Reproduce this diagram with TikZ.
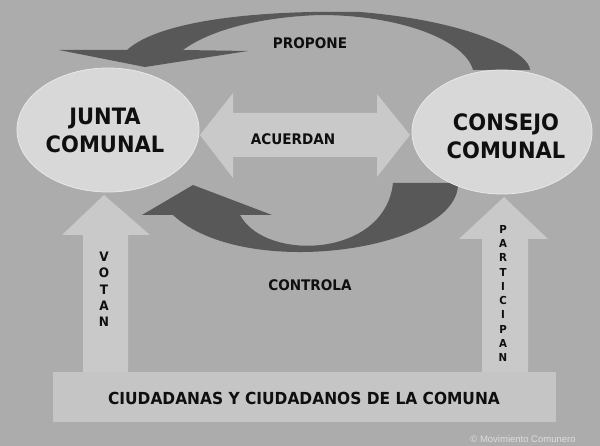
\documentclass[tikz,border=0pt]{standalone}
\usepackage{fontspec}
\usetikzlibrary{shapes.geometric}
\newfontfamily\lab{DejaVu Sans}[FakeStretch=0.93]
\setmainfont{Liberation Sans}
\definecolor{bgc}{RGB}{172,172,172}
\definecolor{ellc}{RGB}{216,216,216}
\definecolor{lightarr}{RGB}{201,201,201}
\definecolor{darkarr}{RGB}{88,88,88}
\definecolor{rectc}{RGB}{197,197,197}
\definecolor{txtc}{RGB}{15,15,15}
\definecolor{copyc}{RGB}{222,222,222}
\begin{document}
\begin{tikzpicture}[x=1pt,y=-1pt,
  darkshape/.style={fill=darkarr},
  lightshape/.style={fill=lightarr},
  oval/.style={ellipse,fill=ellc,draw=ellc!60!white,line width=0.8pt,inner sep=0pt},
  bigtxt/.style={text=txtc,font=\lab\bfseries\fontsize{22.6}{28}\selectfont,align=center,inner sep=0pt},
  midtxt/.style={text=txtc,font=\lab\bfseries\fontsize{14.6}{17}\selectfont,inner sep=0pt},
  coltxt/.style={text=txtc,align=center,inner sep=0pt}]
\useasboundingbox (0,0) rectangle (600,446);
\fill[bgc] (0,0) rectangle (600,446);

% PROPONE arrow (top)
\fill[darkshape] (530,70) .. controls (530,55) and (480,22) .. (360,12)
  .. controls (260,10) and (160,20) .. (127,50) -- (59,50) -- (145,67) -- (248,51) -- (183,50)
  .. controls (210,30) and (260,17) .. (320,15)
  .. controls (400,15) and (465,40) .. (473,70) -- cycle;

% CONTROLA arrow (bottom)
\fill[darkshape] (142,215) -- (193,185) -- (272,215) -- (240,215)
  .. controls (265,262) and (385,258) .. (393,183) -- (458,183)
  .. controls (460,250) and (245,282) .. (173,215) -- cycle;

% ACUERDAN double arrow
\fill[lightshape] (200,135) -- (233,93) -- (233,113) -- (377,113) -- (377,94) -- (410,135)
  -- (377,177) -- (377,157) -- (233,157) -- (233,178) -- cycle;

% VOTAN arrow
\fill[lightshape] (104,195) -- (150,235) -- (128,235) -- (128,372) -- (83,372) -- (83,235) -- (62,235) -- cycle;
% PARTICIPAN arrow
\fill[lightshape] (504,197) -- (548,239) -- (528,239) -- (528,373) -- (482,373) -- (482,239) -- (459,239) -- cycle;

% ellipses
\node[oval,minimum width=182pt,minimum height=124pt] (junta) at (108,130) {};
\node[oval,minimum width=180pt,minimum height=124pt] (consejo) at (502,132) {};
\node[bigtxt] (juntat) at (105,130) {JUNTA\\COMUNAL};
\node[bigtxt] (consejot) at (506,136) {CONSEJO\\COMUNAL};

% bottom box
\node[fill=rectc,minimum width=503pt,minimum height=50pt,inner sep=0pt] (ciud) at (304.5,397) {};
\node[text=txtc,font=\lab\bfseries\fontsize{16.6}{20}\selectfont,inner sep=0pt] (ciudt) at (304,398) {CIUDADANAS Y CIUDADANOS DE LA COMUNA};

% labels
\node[midtxt] (propone) at (310,43) {PROPONE};
\node[midtxt] (acuerdan) at (293,139) {ACUERDAN};
\node[midtxt] (controla) at (310,285) {CONTROLA};
\node[coltxt,font=\lab\bfseries\fontsize{13}{16.25}\selectfont] (votan) at (104,289.5) {V\\O\\T\\A\\N};
\node[coltxt,font=\lab\bfseries\fontsize{11}{14.3}\selectfont] (particip) at (503,293.5) {P\\A\\R\\T\\I\\C\\I\\P\\A\\N};

\node[text=copyc,font=\fontsize{9.5}{11}\selectfont,inner sep=0pt] (copy) at (523,439) {\textcopyright{} Movimiento Comunero};
\end{tikzpicture}
\end{document}
